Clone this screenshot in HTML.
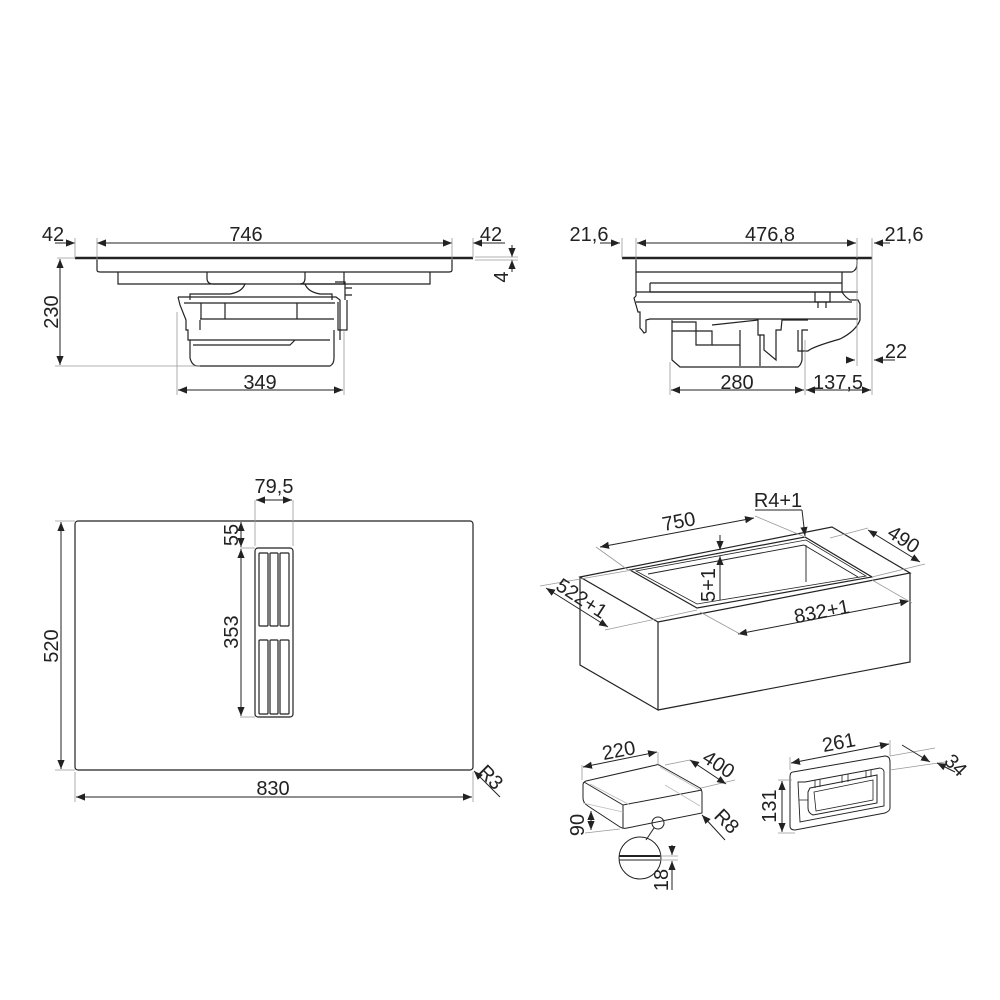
<!DOCTYPE html>
<html><head><meta charset="utf-8"><style>
html,body{margin:0;padding:0;background:#fff}
svg{display:block}
text{font-family:"Liberation Sans",sans-serif;font-size:20px;fill:#222}
</style></head><body>
<svg width="1000" height="1000" viewBox="0 0 1000 1000" xmlns="http://www.w3.org/2000/svg">
<defs>
<marker id="a" viewBox="0 0 10 10" refX="10" refY="5" markerWidth="9" markerHeight="9" orient="auto-start-reverse" markerUnits="userSpaceOnUse"><path d="M0,1 L10,5 L0,9 z" fill="#222"/></marker>
</defs>
<g stroke="#222" stroke-width="1.2" fill="none">
<!-- ===== TOP LEFT ===== -->
<line x1="75" y1="258" x2="473" y2="258" stroke-width="2.5"/>
<path d="M97,259 V270 Q97,272 100,272 H449 Q452,272 452,270 V259"/>
<path d="M118,272 V284 H344 V272 M462,272"/>
<path d="M207,272 V278 Q207,284 213,284"/>
<path d="M305,272 V278 Q305,284 300,284 H430 V272"/>
<path d="M213,284 H245 Q242,292 230,294 H190 V300"/>
<path d="M305,284 Q308,292 320,294 H332 V300"/>
<path d="M178,297 H336 L340,300 V340 M178,297 L180,305 L186,320 V330 H188 V340 H190 V358 Q192,366 198,366 H330 Q334,364 334,358 V330"/>
<path d="M184,303 H335 M200,319 H334 M200,320 V330 M190,340 H330 M193,345 L290,345 L295,340"/>
<path d="M201,303 V319 M225,303 V319 M297,303 V319"/>
<path d="M335,282 H345 V300 M345,288 H352 M345,295 H352 M338,302 V330 H347 V300"/>
<!-- dims -->
<line x1="55" y1="243" x2="75" y2="243" marker-end="url(#a)" stroke-width="1"/>
<line x1="97" y1="243" x2="452" y2="243" marker-start="url(#a)" marker-end="url(#a)" stroke-width="1"/>
<line x1="505" y1="243" x2="473" y2="243" marker-end="url(#a)" stroke-width="1"/>
<line x1="75" y1="238" x2="75" y2="258" stroke="#999" stroke-width="0.8"/>
<line x1="97" y1="238" x2="97" y2="260" stroke="#999" stroke-width="0.8"/>
<line x1="452" y1="238" x2="452" y2="260" stroke="#999" stroke-width="0.8"/>
<line x1="473" y1="238" x2="473" y2="258" stroke="#999" stroke-width="0.8"/>
<line x1="512" y1="245" x2="512" y2="257" marker-end="url(#a)" stroke-width="1"/>
<line x1="512" y1="272" x2="512" y2="260" marker-end="url(#a)" stroke-width="1"/>
<line x1="475" y1="257" x2="518" y2="257" stroke="#999" stroke-width="0.8"/>
<line x1="475" y1="260" x2="518" y2="260" stroke="#999" stroke-width="0.8"/>
<line x1="57" y1="258" x2="75" y2="258" stroke="#999" stroke-width="0.8"/>
<line x1="60" y1="259" x2="60" y2="365" marker-start="url(#a)" marker-end="url(#a)" stroke-width="1"/>
<line x1="55" y1="366" x2="200" y2="366" stroke="#999" stroke-width="0.8"/>
<line x1="177" y1="312" x2="177" y2="395" stroke="#999" stroke-width="0.8"/>
<line x1="344" y1="330" x2="344" y2="395" stroke="#999" stroke-width="0.8"/>
<line x1="178" y1="390" x2="343" y2="390" marker-start="url(#a)" marker-end="url(#a)" stroke-width="1"/>
<!-- ===== TOP RIGHT ===== -->
<line x1="622" y1="258" x2="872" y2="258" stroke-width="2.5"/>
<path d="M636,259 V272 H852 Q857,270 857,264 V259"/>
<path d="M636,272 V296 M842,272 V292 Q845,297 850,300 H858 L860,304 V320 Q856,331 840,339 Q812,347 808,351 H798 V330"/>
<path d="M650,283 V292 H842 M650,283 H842"/>
<path d="M636,292 H858 M636,296 L634,298 L638,312 H640 V328 Q642,330 644,333 L646,332 V320 L650,319 H858"/>
<path d="M636,302 H852"/>
<path d="M815,292 V302 H830 V292 M818,302 V308 M826,302 V308"/>
<path d="M672,320 V360 L680,367 H798 Q801,365 802,360 V330 H808"/>
<path d="M672,322 H696 V331 H712 V345 H696 V331 M672,331 H696 M712,325 L758,320 V335 H764 V350 L776,360 V330 H781 L782,320 H808"/>
<path d="M760,335 L760,366 M740,330 V366 M740,345 L712,345"/>
<!-- dims -->
<line x1="600" y1="243" x2="620" y2="243" marker-end="url(#a)" stroke-width="1"/>
<line x1="637" y1="243" x2="856" y2="243" marker-start="url(#a)" marker-end="url(#a)" stroke-width="1"/>
<line x1="890" y1="243" x2="874" y2="243" marker-end="url(#a)" stroke-width="1"/>
<line x1="622" y1="238" x2="622" y2="258" stroke="#999" stroke-width="0.8"/>
<line x1="636" y1="238" x2="636" y2="260" stroke="#999" stroke-width="0.8"/>
<line x1="857" y1="238" x2="857" y2="258" stroke="#999" stroke-width="0.8"/>
<line x1="872" y1="238" x2="872" y2="395" stroke="#999" stroke-width="0.8"/>
<line x1="857" y1="260" x2="857" y2="366" stroke="#999" stroke-width="0.8"/>
<line x1="850" y1="360" x2="855" y2="360" marker-end="url(#a)" stroke-width="1"/>
<line x1="895" y1="360" x2="874" y2="360" marker-end="url(#a)" stroke-width="1"/>
<line x1="670" y1="362" x2="670" y2="395" stroke="#999" stroke-width="0.8"/>
<line x1="805" y1="340" x2="805" y2="395" stroke="#999" stroke-width="0.8"/>
<line x1="671" y1="390" x2="804" y2="390" marker-start="url(#a)" marker-end="url(#a)" stroke-width="1"/>
<line x1="806" y1="390" x2="871" y2="390" marker-start="url(#a)" marker-end="url(#a)" stroke-width="1"/>
<!-- ===== BOTTOM LEFT ===== -->
<rect x="75" y="521" width="398" height="249" rx="3"/>
<rect x="255" y="548" width="38" height="169" rx="3"/>
<rect x="259" y="553" width="9" height="73" rx="1"/>
<rect x="270" y="553" width="8" height="73" rx="1"/>
<rect x="280" y="553" width="9" height="73" rx="1"/>
<rect x="259" y="640" width="9" height="74" rx="1"/>
<rect x="270" y="640" width="8" height="74" rx="1"/>
<rect x="280" y="640" width="9" height="74" rx="1"/>
<line x1="255" y1="500" x2="255" y2="546" stroke="#999" stroke-width="0.8"/>
<line x1="293" y1="500" x2="293" y2="546" stroke="#999" stroke-width="0.8"/>
<line x1="256" y1="500" x2="292" y2="500" marker-start="url(#a)" marker-end="url(#a)" stroke-width="1"/>
<line x1="240" y1="548" x2="255" y2="548" stroke="#999" stroke-width="0.8"/>
<line x1="240" y1="717" x2="255" y2="717" stroke="#999" stroke-width="0.8"/>
<line x1="241" y1="522" x2="241" y2="547" marker-start="url(#a)" marker-end="url(#a)" stroke-width="1"/>
<line x1="241" y1="549" x2="241" y2="716" marker-start="url(#a)" marker-end="url(#a)" stroke-width="1"/>
<line x1="55" y1="521" x2="75" y2="521" stroke="#999" stroke-width="0.8"/>
<line x1="55" y1="770" x2="75" y2="770" stroke="#999" stroke-width="0.8"/>
<line x1="61" y1="522" x2="61" y2="769" marker-start="url(#a)" marker-end="url(#a)" stroke-width="1"/>
<line x1="75" y1="772" x2="75" y2="802" stroke="#999" stroke-width="0.8"/>
<line x1="473" y1="772" x2="473" y2="802" stroke="#999" stroke-width="0.8"/>
<line x1="76" y1="797" x2="472" y2="797" marker-start="url(#a)" marker-end="url(#a)" stroke-width="1"/>
<line x1="500" y1="797" x2="474" y2="771" marker-end="url(#a)" stroke-width="1"/>
<!-- ===== BOX ===== -->
<path d="M580,577 L832,527 L910,573 L658,622 Z"/>
<path d="M580,577 V665 L658,710 V622 M658,710 L910,662 V573"/>
<path d="M630,570 L805,537 L872,577 L697,608 Z"/>
<path d="M636,571 L806,540 L866,576 L697,604 Z" stroke-width="0.8"/>
<path d="M648,574 L804,545 M804,545 L858,577 M806,545 V582" stroke-width="0.9"/>
<!-- box dims -->
<line x1="600" y1="547" x2="754" y2="518" marker-start="url(#a)" marker-end="url(#a)" stroke-width="1"/>
<line x1="596" y1="547" x2="628" y2="570" stroke="#999" stroke-width="0.8"/>
<line x1="755" y1="516" x2="805" y2="537" stroke="#999" stroke-width="0.8"/>
<line x1="755" y1="510" x2="802" y2="510" stroke-width="1"/>
<line x1="802" y1="510" x2="805" y2="536" marker-end="url(#a)" stroke-width="1"/>
<line x1="720" y1="535" x2="720" y2="550" marker-end="url(#a)" stroke-width="1"/>
<line x1="720" y1="600" x2="720" y2="556" marker-end="url(#a)" stroke-width="1"/>
<line x1="868" y1="530" x2="920" y2="562" marker-start="url(#a)" marker-end="url(#a)" stroke-width="1"/>
<line x1="830" y1="538" x2="868" y2="528" stroke="#999" stroke-width="0.8"/>
<line x1="872" y1="577" x2="925" y2="564" stroke="#999" stroke-width="0.8"/>
<line x1="546" y1="588" x2="608" y2="627" marker-start="url(#a)" marker-end="url(#a)" stroke-width="1"/>
<line x1="540" y1="586" x2="632" y2="570" stroke="#999" stroke-width="0.8"/>
<line x1="605" y1="630" x2="697" y2="610" stroke="#999" stroke-width="0.8"/>
<line x1="738" y1="634" x2="909" y2="601" marker-start="url(#a)" marker-end="url(#a)" stroke-width="1"/>
<line x1="700" y1="612" x2="740" y2="634" stroke="#999" stroke-width="0.8"/>
<line x1="872" y1="580" x2="912" y2="603" stroke="#999" stroke-width="0.8"/>
<!-- ===== SMALL BOX ===== -->
<path d="M586,781 L656,765 Q658,764 661,766 L700,788 Q702,790 702,793 V813 L627,828 Q623,829 620,827 L588,806 Q583,803 583,798 V785 Q583,782 586,781 Z" stroke-width="1"/>
<path d="M584,782 L623,805 L702,790 M623,805 V828" stroke-width="1"/>
<path d="M590,784 L630,805 M660,767 L700,790 M583,803 L623,812 M665,785 L700,806" stroke="#bbb" stroke-width="0.8"/>
<circle cx="658" cy="823" r="6" stroke-width="1"/>
<line x1="654" y1="828" x2="646" y2="840" stroke-width="1"/>
<circle cx="640" cy="858" r="21" stroke-width="1"/>
<line x1="619" y1="856" x2="661" y2="856" stroke-width="2"/>
<line x1="619" y1="860" x2="661" y2="860" stroke-width="1"/>
<line x1="582" y1="765" x2="582" y2="780" stroke="#999" stroke-width="0.8"/>
<line x1="658" y1="752" x2="658" y2="764" stroke="#999" stroke-width="0.8"/>
<line x1="583" y1="767" x2="657" y2="752" marker-start="url(#a)" marker-end="url(#a)" stroke-width="1"/>
<line x1="665" y1="765" x2="690" y2="760" stroke="#999" stroke-width="0.8"/>
<line x1="701" y1="788" x2="735" y2="780" stroke="#999" stroke-width="0.8"/>
<line x1="690" y1="760" x2="726" y2="784" marker-start="url(#a)" marker-end="url(#a)" stroke-width="1"/>
<line x1="725" y1="840" x2="702" y2="815" marker-end="url(#a)" stroke-width="1"/>
<line x1="591" y1="811" x2="591" y2="830" marker-start="url(#a)" marker-end="url(#a)" stroke-width="1"/>
<line x1="585" y1="833" x2="620" y2="829" stroke="#999" stroke-width="0.8"/>
<line x1="672" y1="845" x2="672" y2="855" marker-end="url(#a)" stroke-width="1"/>
<line x1="672" y1="890" x2="672" y2="861" marker-end="url(#a)" stroke-width="1"/>
<line x1="660" y1="856" x2="678" y2="856" stroke="#999" stroke-width="0.8"/>
<line x1="660" y1="860" x2="678" y2="860" stroke="#999" stroke-width="0.8"/>
<!-- ===== FRAME ===== -->
<path d="M793,772 L885,756 Q890,756 890,762 V808 Q890,811 885,813 L795,830 Q790,830 790,826 V777 Q790,772 793,772 Z" stroke-width="1"/>
<path d="M805,782 L880,768 Q884,769 884,772 V806 L800,822 L798,782 Z" stroke-width="0.9"/>
<path d="M810,788 L877,775 V803 L813,815 Q808,813 808,808 V792 Z" stroke-width="1"/>
<path d="M814,792 L873,780 V800 L816,811 Z" stroke-width="0.8"/>
<path d="M815,780 V788 M820,779 V787 M842,775 V783 M848,774 V782 M866,771 V778 M871,770 V777 M799,800 H808" stroke-width="0.8"/>
<line x1="790" y1="757" x2="790" y2="770" stroke="#999" stroke-width="0.8"/>
<line x1="890" y1="740" x2="890" y2="756" stroke="#999" stroke-width="0.8"/>
<line x1="791" y1="763" x2="889" y2="744" marker-start="url(#a)" marker-end="url(#a)" stroke-width="1"/>
<line x1="890" y1="756" x2="935" y2="748" stroke="#999" stroke-width="0.8"/>
<line x1="890" y1="770" x2="945" y2="762" stroke="#999" stroke-width="0.8"/>
<line x1="902" y1="745" x2="930" y2="762" marker-end="url(#a)" stroke-width="1"/>
<line x1="955" y1="772" x2="937" y2="763" marker-end="url(#a)" stroke-width="1"/>
<line x1="778" y1="780" x2="792" y2="780" stroke="#999" stroke-width="0.8"/>
<line x1="778" y1="833" x2="795" y2="833" stroke="#999" stroke-width="0.8"/>
<line x1="782" y1="781" x2="782" y2="832" marker-start="url(#a)" marker-end="url(#a)" stroke-width="1"/>
</g>
<!-- TEXT -->
<text x="53" y="241" text-anchor="middle">42</text>
<text x="246" y="241" text-anchor="middle">746</text>
<text x="491" y="241" text-anchor="middle">42</text>
<text transform="translate(508,277) rotate(-90)" text-anchor="middle">4</text>
<text transform="translate(58,312) rotate(-90)" text-anchor="middle">230</text>
<text x="260" y="389" text-anchor="middle">349</text>
<text x="589" y="241" text-anchor="middle">21,6</text>
<text x="770" y="241" text-anchor="middle">476,8</text>
<text x="904" y="241" text-anchor="middle">21,6</text>
<text x="896" y="358" text-anchor="middle">22</text>
<text x="737" y="389" text-anchor="middle">280</text>
<text x="838" y="389" text-anchor="middle">137,5</text>
<text x="274" y="493" text-anchor="middle">79,5</text>
<text transform="translate(238,535) rotate(-90)" text-anchor="middle">55</text>
<text transform="translate(238,632) rotate(-90)" text-anchor="middle">353</text>
<text transform="translate(58,646) rotate(-90)" text-anchor="middle">520</text>
<text x="273" y="795" text-anchor="middle">830</text>
<text transform="translate(486,782) rotate(45)" text-anchor="middle">R3</text>
<text transform="translate(680,528) rotate(-11)" text-anchor="middle">750</text>
<text x="778" y="507" text-anchor="middle">R4+1</text>
<text transform="translate(900,545) rotate(33)" text-anchor="middle">490</text>
<text transform="translate(715,585) rotate(-90)" text-anchor="middle">5+1</text>
<text transform="translate(578,604) rotate(33)" text-anchor="middle">522+1</text>
<text transform="translate(823,618) rotate(-11)" text-anchor="middle">832+1</text>
<text transform="translate(620,757) rotate(-11)" text-anchor="middle">220</text>
<text transform="translate(715,770) rotate(33)" text-anchor="middle">400</text>
<text transform="translate(722,826) rotate(45)" text-anchor="middle">R8</text>
<text transform="translate(584,825) rotate(-90)" text-anchor="middle">90</text>
<text transform="translate(668,880) rotate(-90)" text-anchor="middle">18</text>
<text transform="translate(840,749) rotate(-11)" text-anchor="middle">261</text>
<text transform="translate(951,770) rotate(45)" text-anchor="middle">34</text>
<text transform="translate(776,806) rotate(-90)" text-anchor="middle">131</text>
</svg>
</body></html>
